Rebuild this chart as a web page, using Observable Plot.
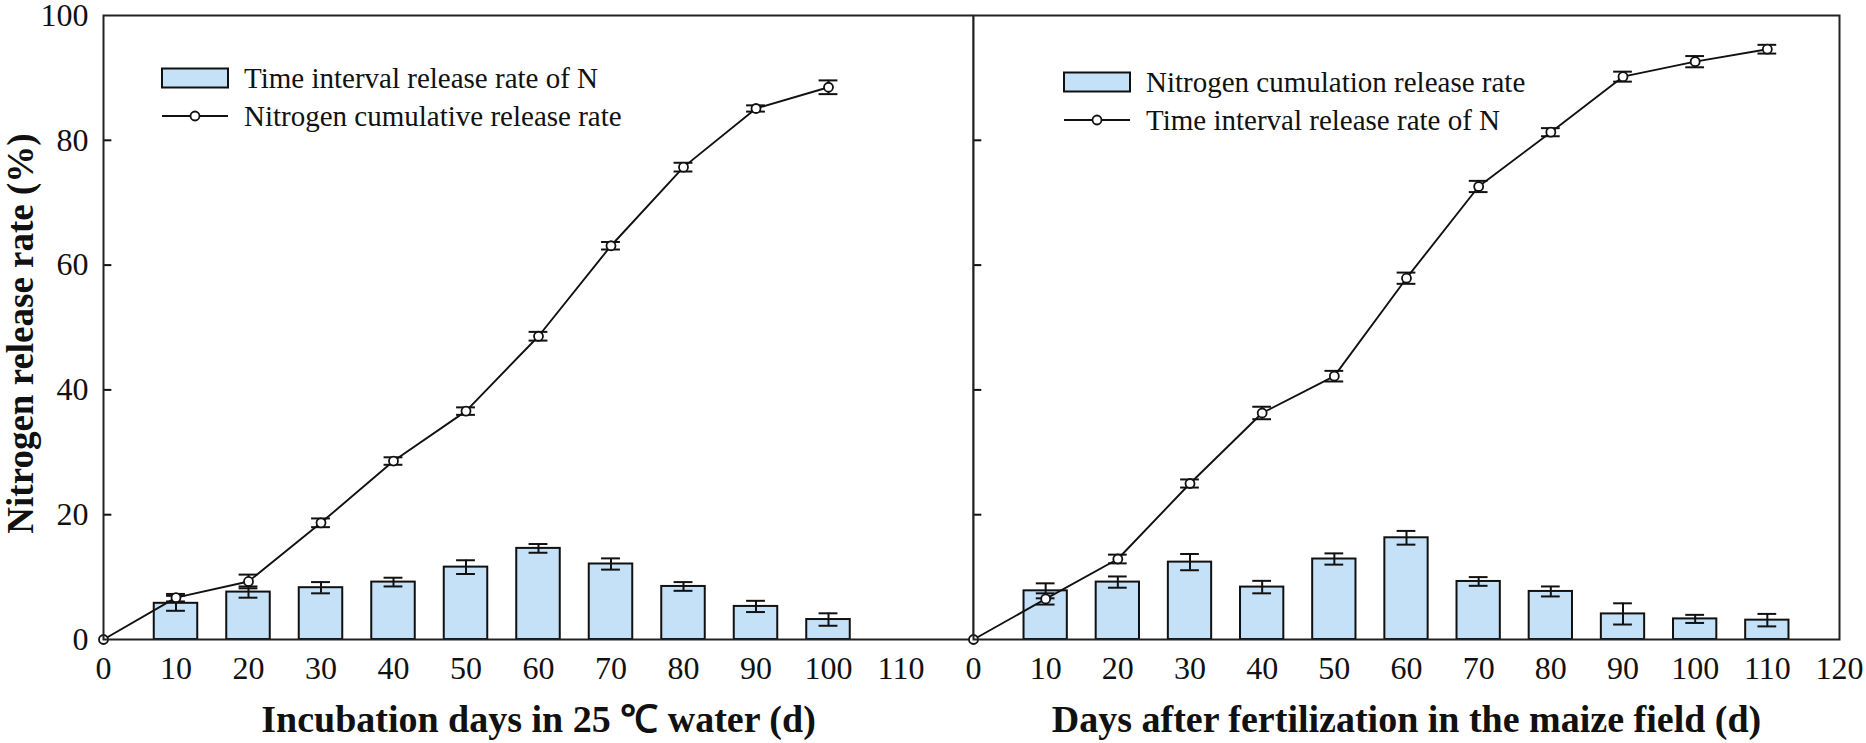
<!DOCTYPE html>
<html><head><meta charset="utf-8">
<script src="https://cdn.jsdelivr.net/npm/d3@7"></script>
<script src="https://cdn.jsdelivr.net/npm/@observablehq/plot@0.6"></script>
<style>
body{margin:0;background:#fff}
#chart{display:flex;width:1866px;height:743px;overflow:hidden}
svg{overflow:visible}
</style></head><body><div id="chart"></div>
<script>
// ---- data ----
const daysL = [10,20,30,40,50,60,70,80,90,100];
const intervalL = [5.8,7.6,8.3,9.2,11.6,14.6,12.1,8.5,5.3,3.2];
const intervalLErr = [1.2,0.9,0.9,0.7,1.1,0.7,0.9,0.7,0.9,1.0];
const cumDaysL = [0,10,20,30,40,50,60,70,80,90,100];
const cumL = [0,6.7,9.3,18.7,28.6,36.6,48.6,63.1,75.7,85.1,88.5];
const cumLErr = [0,0.6,1.1,0.7,0.6,0.6,0.7,0.6,0.7,0.5,1.1];

const daysR = [10,20,30,40,50,60,70,80,90,100,110];
const intervalR = [7.8,9.2,12.4,8.4,12.9,16.3,9.3,7.7,4.1,3.3,3.1];
const intervalRErr = [1.2,0.9,1.3,1.0,0.9,1.1,0.7,0.8,1.7,0.65,1.0];
const cumDaysR = [0,10,20,30,40,50,60,70,80,90,100,110];
const cumR = [0,6.5,12.9,25.0,36.3,42.2,57.9,72.6,81.3,90.2,92.6,94.6];
const cumRErr = [0,0.9,0.7,0.65,1.0,0.85,0.9,0.9,0.65,0.8,0.9,0.7];

const xTicksL = [0,10,20,30,40,50,60,70,80,90,100,110];
const xTicksR = [0,10,20,30,40,50,60,70,80,90,100,110,120];
const yTicks = [0,20,40,60,80,100];
const yInnerTicks = [20,40,60,80];

const titleL = "Incubation days in 25 ℃ water (d)";
const titleR = "Days after fertilization in the maize field (d)";
const yTitle = "Nitrogen release rate (%)";
const legendL = ["Time interval release rate of N", "Nitrogen cumulative release rate"];
const legendR = ["Nitrogen cumulation release rate", "Time interval release rate of N"];

const BAR = "#c5e1f8";
const FONT = "'Liberation Serif', 'Times New Roman', serif";
const halfBar = 3, cap = 1.3;

function rows(xs, ys, es){ return xs.map((x,i)=>({x, y: ys[i], e: es[i]})); }

function panel({bars, line, xTicks, title, width, marginLeft, marginRight, yAxis}) {
  const lineErr = line.filter(d => d.e > 0);
  const marks = [
    Plot.rectY(bars, {x1: d => d.x - halfBar, x2: d => d.x + halfBar, y1: 0, y2: "y", fill: BAR, stroke: "#111", strokeWidth: 2}),
    Plot.ruleX(bars, {x: "x", y1: d => d.y - d.e, y2: d => d.y + d.e, stroke: "#111", strokeWidth: 2}),
    Plot.ruleY(bars, {y: d => d.y - d.e, x1: d => d.x - cap, x2: d => d.x + cap, stroke: "#111", strokeWidth: 2}),
    Plot.ruleY(bars, {y: d => d.y + d.e, x1: d => d.x - cap, x2: d => d.x + cap, stroke: "#111", strokeWidth: 2}),
    Plot.line(line, {x: "x", y: "y", stroke: "#111", strokeWidth: 1.9}),
    Plot.ruleX(lineErr, {x: "x", y1: d => d.y - d.e, y2: d => d.y + d.e, stroke: "#111", strokeWidth: 2}),
    Plot.ruleY(lineErr, {y: d => d.y - d.e, x1: d => d.x - cap, x2: d => d.x + cap, stroke: "#111", strokeWidth: 2}),
    Plot.ruleY(lineErr, {y: d => d.y + d.e, x1: d => d.x - cap, x2: d => d.x + cap, stroke: "#111", strokeWidth: 2}),
    Plot.dot(line, {x: "x", y: "y", r: 4.5, fill: "white", stroke: "#111", strokeWidth: 1.8}),
    Plot.ruleY(yInnerTicks, {y: d => d, x1: 0, x2: 1.15, stroke: "#111", strokeWidth: 2}),
    Plot.frame({stroke: "#222", strokeWidth: 2}),
    Plot.axisX({ticks: xTicks, tickSize: 0, tickPadding: 17, fontSize: 32, label: null}),
    Plot.text([title], {frameAnchor: "bottom", dy: 80, fontSize: 38, fontWeight: "bold", lineAnchor: "middle", textAnchor: "middle"})
  ];
  if (yAxis) {
    marks.push(Plot.axisY({ticks: yTicks, tickSize: 0, tickPadding: 15, fontSize: 32, label: null}));
    marks.push(Plot.text([yTitle], {frameAnchor: "left", dx: -82, dy: 6, rotate: -90, fontSize: 37, fontWeight: "bold", lineAnchor: "middle", textAnchor: "middle"}));
  } else {
    marks.push(Plot.axisY({ticks: [], tickSize: 0, label: null}));
  }
  return Plot.plot({
    width, height: 743, marginTop: 15, marginBottom: 104, marginLeft, marginRight,
    x: {domain: [0, 120]},
    y: {domain: [0, 100]},
    style: {fontFamily: FONT, color: "#111", background: "white", overflow: "visible"},
    marks
  });
}

function addLegend(svg, x0, yRow1, yRow2, labels) {
  const g = d3.select(svg).append("g").attr("font-family", FONT).attr("font-size", 29)
    .attr("fill", "#111").attr("text-anchor", "start");
  g.append("rect").attr("x", x0).attr("y", yRow1 - 9.5).attr("width", 66).attr("height", 19)
    .attr("fill", BAR).attr("stroke", "#111").attr("stroke-width", 2);
  g.append("line").attr("x1", x0).attr("x2", x0 + 66).attr("y1", yRow2).attr("y2", yRow2)
    .attr("stroke", "#111").attr("stroke-width", 1.8);
  g.append("circle").attr("cx", x0 + 33).attr("cy", yRow2).attr("r", 4.5)
    .attr("fill", "white").attr("stroke", "#111").attr("stroke-width", 1.8);
  g.append("text").attr("x", x0 + 82).attr("y", yRow1).attr("dy", "0.33em").attr("text-anchor", "start").text(labels[0]);
  g.append("text").attr("x", x0 + 82).attr("y", yRow2).attr("dy", "0.33em").attr("text-anchor", "start").text(labels[1]);
}

const chart = document.getElementById("chart");
const left = panel({bars: rows(daysL, intervalL, intervalLErr), line: rows(cumDaysL, cumL, cumLErr),
  xTicks: xTicksL, title: titleL, width: 973, marginLeft: 103, marginRight: 0, yAxis: true});
const right = panel({bars: rows(daysR, intervalR, intervalRErr), line: rows(cumDaysR, cumR, cumRErr),
  xTicks: xTicksR, title: titleR, width: 893, marginLeft: 0, marginRight: 27, yAxis: false});
chart.appendChild(left);
chart.appendChild(right);
addLegend(left, 162, 78, 116, legendL);
addLegend(right, 1064 - 973, 82, 120, legendR);
</script></body></html>
